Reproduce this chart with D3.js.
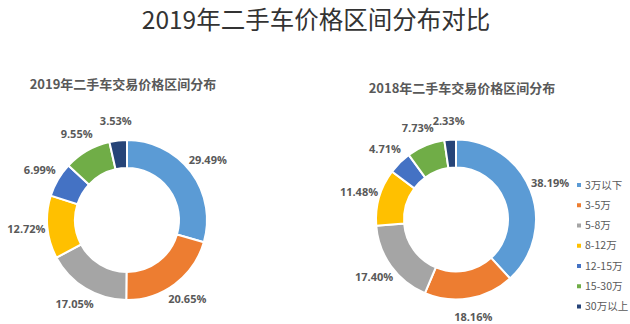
<!DOCTYPE html>
<html><head><meta charset="utf-8">
<script src="https://cdn.jsdelivr.net/npm/d3@7"></script>
<style>
html,body{margin:0;padding:0;background:#fff;}
svg{display:block;}
</style></head>
<body>
<svg id="chart" width="630" height="324"></svg>
<script>
const mainTitle = "2019年二手车价格区间分布对比";
const categories = ["3万以下","3-5万","5-8万","8-12万","12-15万","15-30万","30万以上"];
const values2019 = [29.49, 20.65, 17.05, 12.72, 6.99, 9.55, 3.53];
const values2018 = [38.19, 18.16, 17.40, 11.48, 4.71, 7.73, 2.33];
const subtitles = ["2019年二手车交易价格区间分布","2018年二手车交易价格区间分布"];
const colors = ["#5B9BD5","#ED7D31","#A5A5A5","#FFC000","#4472C4","#70AD47","#264478"];

const svg = d3.select("#chart");
const cjk = "'Noto Sans CJK SC','Noto Sans',sans-serif";
const num = "'Open Sans','Noto Sans CJK SC',sans-serif";

svg.append("text").attr("x",316).attr("y",29).attr("text-anchor","middle")
  .style("font-family",cjk).style("font-size","24.5px").style("fill","#333")
  .text(mainTitle);

const color = d3.scaleOrdinal().domain(categories).range(colors);
const pie = d3.pie().sort(null).value(d=>d.v);
const R = 80, r = 52;
const arc = d3.arc().innerRadius(r).outerRadius(R);

function donut(cx, cy, values, subtitle, tx, ty){
  svg.append("text").attr("x",tx).attr("y",ty).attr("text-anchor","middle")
    .style("font-family",cjk).style("font-size","13px").style("font-weight","bold").style("fill","#595959")
    .text(subtitle);
  const g = svg.append("g").attr("transform",`translate(${cx},${cy})`);
  const data = pie(categories.map((c,i)=>({c, v: values[i]})));
  g.selectAll("path").data(data).join("path")
    .attr("d",arc).attr("fill",d=>color(d.data.c))
    .attr("stroke","#fff").attr("stroke-width",2);
  g.selectAll("text.lbl").data(data).join("text").attr("class","lbl")
    .attr("x",d=>{const a=(d.startAngle+d.endAngle)/2; return Math.sin(a)*(R+21);})
    .attr("y",d=>{const a=(d.startAngle+d.endAngle)/2; return -Math.cos(a)*(R+19);})
    .attr("dy","0.35em").attr("text-anchor","middle")
    .style("font-family",num).style("font-size","11px").style("font-weight","bold").style("fill","#595959")
    .text(d=>d.data.v.toFixed(2)+"%");
}

donut(127, 220, values2019, subtitles[0], 123, 89);
donut(456, 219.5, values2018, subtitles[1], 462, 93);

const leg = svg.append("g");
const ly = d3.scalePoint().domain(categories).range([185, 306.5]);
categories.forEach(c=>{
  leg.append("rect").attr("x",577).attr("y",ly(c)-2).attr("width",4).attr("height",4).attr("fill",color(c));
  leg.append("text").attr("x",585).attr("y",ly(c)).attr("dy","0.35em")
    .style("font-family",cjk).style("font-size","10.5px").style("fill","#595959").text(c);
});
</script>
</body></html>
